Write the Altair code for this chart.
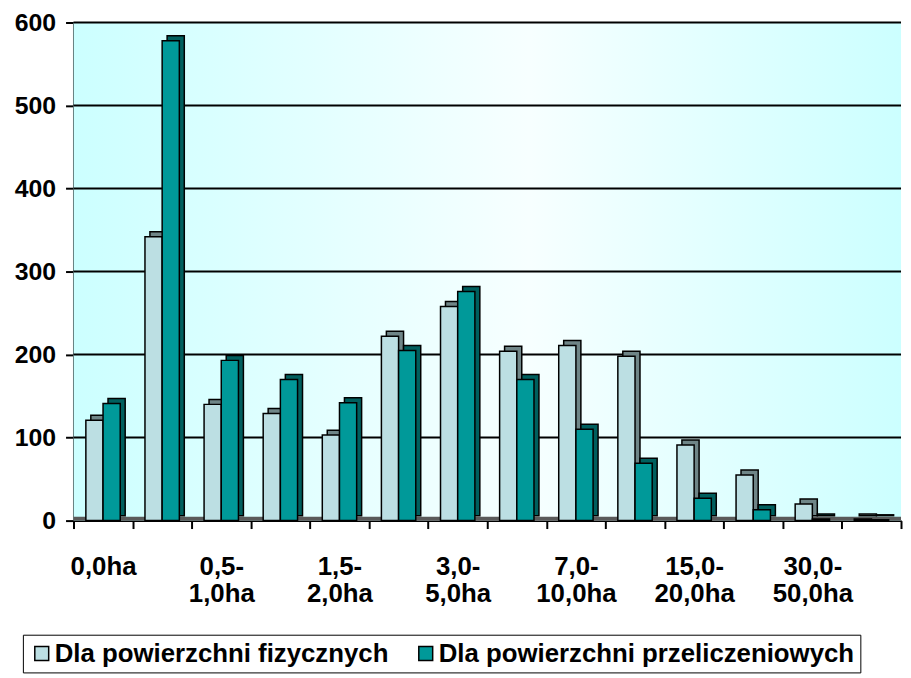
import altair as alt
import pandas as pd

categories = ["0,0ha", "0,1-0,5ha", "0,5-1,0ha", "1,0-1,5ha", "1,5-2,0ha", "2,0-3,0ha",
              "3,0-5,0ha", "5,0-7,0ha", "7,0-10,0ha", "10,0-15,0ha", "15,0-20,0ha",
              "20,0-30,0ha", "30,0-50,0ha", "50,0ha i więcej"]
series = ["Dla powierzchni fizycznych", "Dla powierzchni przeliczeniowych"]
fizyczne = [121, 342, 140, 129, 103, 222, 258, 204, 211, 198, 91, 55, 20, 2]
przeliczeniowe = [141, 578, 193, 170, 142, 205, 276, 170, 110, 69, 27, 13, 2, 1]
shown = categories[::2]
y_ticks = [0, 100, 200, 300, 400, 500, 600]

rows = []
for c, a, b in zip(categories, fizyczne, przeliczeniowe):
    rows.append({"kat": c, "seria": series[0], "v": a})
    rows.append({"kat": c, "seria": series[1], "v": b})
df = pd.DataFrame(rows)
grid_df = pd.DataFrame({"v": y_ticks[1:]})
floor_df = pd.DataFrame({"v": [0]})

FONT = "Liberation Sans"
W, H = 834, 502
BAND = W / len(categories)
DEPTH = 5

shown_js = "[" + ",".join("'" + s + "'" for s in shown) + "]"
label_expr = (f"indexof({shown_js}, datum.value) >= 0 ? "
              "split(replace(datum.value, '-', '-|'), '|') : ''")

y_scale = alt.Scale(domain=[0, 600], nice=False)
y_axis = alt.Axis(values=y_ticks, grid=False,
                  tickSize=8, tickWidth=2, tickColor="black",
                  domainColor="black", domainWidth=2,
                  labelFont=FONT, labelFontSize=25, labelFontWeight="bold",
                  labelColor="black", labelPadding=10)

x_enc = alt.X("kat:N", sort=categories, title=None,
              scale=alt.Scale(paddingInner=0, paddingOuter=0),
              axis=alt.Axis(labelExpr=label_expr, labelAngle=0, tickBand="extent",
                            tickSize=8, tickWidth=2, tickColor="black",
                            domainColor="black", domainWidth=2,
                            labelFont=FONT, labelFontSize=26, labelFontWeight="bold",
                            labelColor="black", labelPadding=25, labelLineHeight=28,
                            labelBaseline="top"))
y_enc = alt.Y("v:Q", title=None, scale=y_scale, axis=y_axis)

bg = alt.Chart(pd.DataFrame({"a": [0]})).mark_rect(
    fill=alt.LinearGradient(gradient="linear", x1=0, y1=0, x2=1, y2=0,
                            stops=[alt.GradientStop(offset=0, color="#CCFFFF"),
                                   alt.GradientStop(offset=0.55, color="#F7FFFF"),
                                   alt.GradientStop(offset=1, color="#CCFFFF")])
).encode(x=alt.value(0), x2=alt.value("width"), y=alt.value(0), y2=alt.value("height"))

grid = alt.Chart(grid_df).mark_rule(color="black", strokeWidth=2).encode(
    y=alt.Y("v:Q", title=None, scale=y_scale, axis=y_axis)
)

floor = alt.Chart(floor_df).mark_rule(color="#5A5A5A", strokeWidth=4, yOffset=-2).encode(
    y=alt.Y("v:Q", title=None, scale=y_scale, axis=y_axis)
)

depth = alt.Chart(df).mark_bar(yOffset=-DEPTH, stroke="black", strokeWidth=1.5).encode(
    x=x_enc,
    xOffset=alt.XOffset("seria:N", sort=series,
                        scale=alt.Scale(paddingInner=0, paddingOuter=0.72,
                                        range=[DEPTH, BAND + DEPTH])),
    y=y_enc,
    color=alt.condition(alt.datum.seria == series[0], alt.value("#6F8587"), alt.value("#005F5E")),
)

front = alt.Chart(df).mark_bar(stroke="black", strokeWidth=1.5).encode(
    x=x_enc,
    xOffset=alt.XOffset("seria:N", sort=series,
                        scale=alt.Scale(paddingInner=0, paddingOuter=0.72)),
    y=y_enc,
    color=alt.Color("seria:N", sort=series, title=None,
                    scale=alt.Scale(domain=series, range=["#BCDFE3", "#009999"]),
                    legend=alt.Legend(orient="none", direction="horizontal",
                                      legendX=-51, legendY=617,
                                      symbolType="square", symbolSize=196,
                                      symbolStrokeColor="black", symbolStrokeWidth=1.5,
                                      symbolOpacity=1, labelOffset=0,
                                      labelFont=FONT, labelFontSize=26, labelFontWeight="bold",
                                      labelColor="black", strokeColor="black",
                                      padding=6, columnPadding=24, labelLimit=700)),
)

chart = alt.layer(bg, grid, floor, depth, front).resolve_scale(
    xOffset="independent"
).properties(
    width=W, height=H,
    padding={"left": 6, "top": 0, "right": 0, "bottom": 0},
).configure_view(stroke=None)

chart.save("out.html", embed_options={"renderer": "svg", "actions": False})
